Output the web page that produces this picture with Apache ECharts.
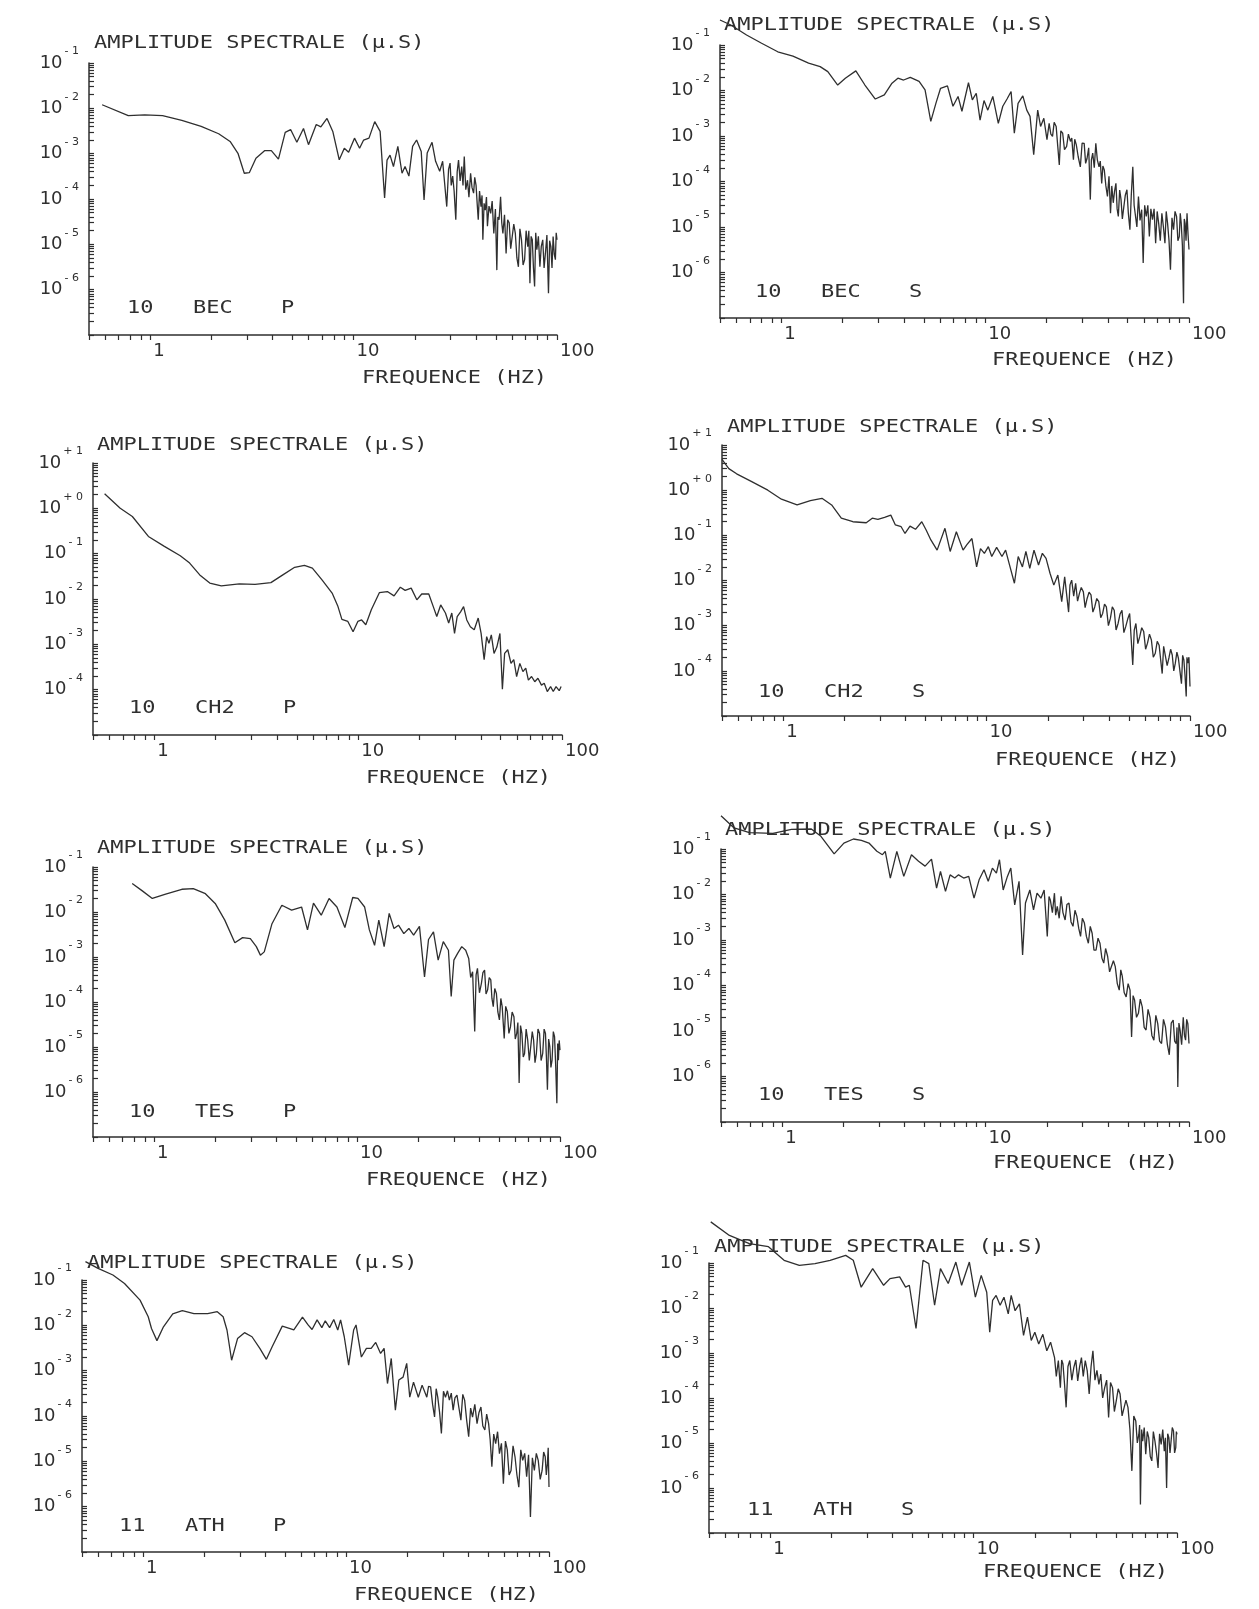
<!DOCTYPE html>
<html>
<head>
<meta charset="utf-8">
<title>Amplitude spectrale</title>
<script src="https://cdn.jsdelivr.net/npm/echarts@6/dist/echarts.min.js"></script>
<style>
html, body { margin: 0; padding: 0; background: #fff; }
#main { width: 1259px; height: 1609px; }
</style>
</head>
<body>
<div id="main"></div>
<script>
// spectres [frequence Hz, amplitude]
var bec10P = [[0.58,1.2e-2],[0.78,6.9e-3],[0.94,7.2e-3],[1.15,6.9e-3],[1.43,5.4e-3],[1.78,4.0e-3],[2.17,2.75e-3],[2.47,1.86e-3],[2.7,1.02e-3],[2.9,3.7e-4],[3.07,3.8e-4],[3.31,7.9e-4],[3.66,1.17e-3],[3.94,1.17e-3],[4.27,7.6e-4],[4.61,2.95e-3],[4.9,3.4e-3],[5.26,1.78e-3],[5.67,3.6e-3],[6.0,1.58e-3],[6.55,4.4e-3],[6.9,3.9e-3],[7.4,6.0e-3],[7.9,3.1e-3],[8.5,7.3e-4],[9.0,1.32e-3],[9.45,1.07e-3],[10.1,2.2e-3],[10.7,1.32e-3],[11.2,2.0e-3],[11.9,2.2e-3],[12.7,5.1e-3],[13.5,3.1e-3],[14.2,1.05e-4],[14.6,7.2e-4],[15.1,9.3e-4],[15.7,5.2e-4],[16.5,1.45e-3],[17.3,3.7e-4],[17.9,5.2e-4],[18.7,3.2e-4],[19.5,1.45e-3],[20.4,2.0e-3],[21.5,1.12e-3],[22.2,9.5e-5],[23.0,1.03e-3],[24.3,1.78e-3],[25.3,6.8e-4],[26.5,4.1e-4],[27.4,6.8e-4],
	[28.7,6.8e-5],[29.3,4.5e-4],[29.8,6.2e-4],[30.2,2.0e-4],[30.7,3.2e-4],[31.2,1.5e-4],[31.8,3.5e-5],[32.3,4.0e-4],[32.8,7.2e-4],[33.4,2.5e-4],[34.0,5.2e-4],[34.5,2.0e-4],[35.0,8.7e-4],[35.6,1.6e-4],[36.3,2.6e-4],[36.9,1.1e-4],[37.6,3.7e-4],[38.2,1.8e-4],[38.9,1.35e-4],[39.4,3.0e-4],[40.0,2.0e-4],[40.5,8.0e-5],[41.0,3.5e-5],[41.6,1.5e-4],[42.3,6.8e-5],[42.8,1.2e-4],[43.2,1.26e-5],[43.8,8.0e-5],[44.4,5.7e-5],[45.0,1.1e-4],[45.5,2.5e-5],[46.3,7.0e-5],[47.2,4.8e-5],[48.0,9.0e-5],[48.9,1.74e-5],[49.8,6.0e-5],[50.6,2.7e-6],[51.2,4.0e-5],[51.9,3.5e-5],[52.8,1.12e-4],[53.5,3.0e-5],[54.2,1.74e-5],[55.2,4.5e-5],[56.2,6.3e-6],[57.2,3.5e-5],[58.2,3.0e-5],[59.2,8.0e-6],[60.3,7.6e-6],[61.3,2.8e-5],[62.4,1.74e-5],[63.5,5.0e-6],[64.6,3.2e-6],[65.7,2.2e-5],[66.9,1.26e-5],[68.1,3.5e-6],[69.3,4.6e-6],[70.5,2.0e-5],[71.8,8.9e-6],[72.7,2.0e-5],[73.6,1.38e-6],[74.6,1.5e-5],[75.6,1.26e-5],[76.6,3.0e-6],[77.6,1.17e-6],[78.6,1.8e-5],[79.6,7.6e-6],[81.0,1.5e-5],[82.4,3.2e-6],[83.7,9.0e-6],[85.1,1.26e-5],[86.4,3.0e-6],[87.7,6.3e-6],[89.2,1.6e-5],[90.8,8.3e-7],[92.0,1.2e-5],[93.3,8.9e-6],[94.5,3.0e-6],[95.7,1.48e-5],[97.0,6.0e-6],[98.2,4.6e-6],[99.1,1.8e-5],[100,1.26e-5]];

var bec10S = [[0.50,0.354],[0.565,0.275],[0.675,0.166],[0.80,0.109],[0.96,7.1e-2],[1.14,5.7e-2],[1.36,4.0e-2],[1.55,3.35e-2],[1.69,2.6e-2],[1.89,1.32e-2],[2.06,1.86e-2],[2.32,2.7e-2],[2.57,1.32e-2],[2.89,6.5e-3],[3.2,8.0e-3],[3.49,1.45e-2],[3.73,1.86e-2],[3.98,1.7e-2],[4.29,1.95e-2],[4.74,1.58e-2],[5.07,1.03e-2],[5.41,2.1e-3],[5.73,5.2e-3],[6.04,1.12e-2],[6.53,1.26e-2],[6.95,4.5e-3],[7.36,7.4e-3],[7.69,3.5e-3],[8.28,1.48e-2],[8.65,6.2e-3],[9.04,8.7e-3],[9.44,2.24e-3],[9.87,6.0e-3],[10.3,3.7e-3],[10.9,7.4e-3],[11.6,1.9e-3],[12.2,4.5e-3],[12.8,6.5e-3],[13.4,9.5e-3],[13.9,1.15e-3],[14.5,5.2e-3],[15.3,7.6e-3],[16.0,3.7e-3],[16.6,2.7e-3],[17.3,3.9e-4],[18.1,3.7e-3],[18.7,1.62e-3],[19.4,2.45e-3],
	[20.1,8.3e-4],[20.6,1.9e-3],[21.0,1.1e-3],[21.4,9.8e-4],[21.8,2.0e-3],[22.3,1.62e-3],[22.7,6.0e-4],[23.1,2.3e-4],[23.5,1.3e-3],[24.0,1.15e-3],[24.5,5.0e-4],[25.1,5.9e-4],[25.6,1.1e-3],[26.2,7.6e-4],[26.6,9.0e-4],[27.1,3.0e-4],[27.5,8.5e-4],[28.0,6.4e-4],[28.6,3.5e-4],[29.3,2.1e-4],[29.9,7.0e-4],[30.6,6.9e-4],[31.1,2.5e-4],[31.6,3.2e-4],[32.2,5.5e-4],[32.8,4.0e-5],[33.2,3.0e-4],[33.7,4.2e-4],[34.3,2.0e-4],[34.9,6.9e-4],[35.5,3.0e-4],[36.2,2.1e-4],[36.7,2.8e-4],[37.3,9.1e-5],[37.8,2.2e-4],[38.4,1.8e-4],[39.1,8.0e-5],[39.8,4.7e-5],[40.5,1.3e-4],[41.2,2.0e-5],[41.8,8.0e-5],[42.5,3.4e-5],[43.1,6.0e-5],[43.8,9.1e-5],[44.4,2.5e-5],[45.0,1.7e-5],[45.7,6.5e-5],[46.4,4.0e-5],[47.1,1.5e-5],[47.9,2.8e-5],[48.7,5.0e-5],[49.6,6.6e-5],[50.4,2.0e-5],[51.3,8.7e-6],[52.1,5.0e-5],[53.0,2.1e-4],[53.8,3.0e-5],[54.6,2.8e-5],[55.5,1.0e-5],[56.5,4.7e-5],[57.5,1.4e-5],[58.6,2.4e-5],[59.6,1.62e-6],[60.6,3.0e-5],[61.7,1.7e-5],[62.8,3.0e-5],[63.9,6.2e-6],[65.0,2.5e-5],[66.2,1.45e-5],[67.4,2.5e-5],[68.6,4.4e-6],[69.8,2.2e-5],[71.0,1.2e-5],[72.3,5.0e-6],[73.6,2.0e-5],[74.9,1.0e-5],[76.2,4.4e-6],[77.3,2.2e-5],[78.5,1.2e-5],[79.8,5.0e-6],[81.1,1.15e-6],[82.5,1.6e-5],[84.0,8.7e-6],[85.4,2.2e-5],[86.9,1.7e-5],[88.2,5.0e-6],[89.6,6.2e-6],[90.6,2.0e-5],[91.6,1.2e-5],[92.8,4.0e-6],[94.0,2.1e-7],[94.8,1.5e-5],[95.7,1.2e-5],[96.7,5.0e-6],[97.8,2.0e-5],[98.9,7.0e-6],[100,3.2e-6]];

var ch210P = [[0.57,2.1],[0.68,1.0],[0.78,0.66],[0.935,0.24],[1.12,0.145],[1.34,9.0e-2],[1.49,6.2e-2],[1.67,3.4e-2],[1.87,2.24e-2],[2.13,1.95e-2],[2.61,2.15e-2],[3.12,2.1e-2],[3.73,2.3e-2],[4.27,3.4e-2],[4.88,5.0e-2],[5.45,5.5e-2],[5.96,4.8e-2],[6.66,2.6e-2],[7.45,1.35e-2],[7.96,6.8e-3],[8.32,3.55e-3],[8.9,3.2e-3],[9.44,1.9e-3],[9.96,3.2e-3],[10.4,3.45e-3],[10.9,2.7e-3],[11.6,5.8e-3],[12.7,1.38e-2],[13.9,1.46e-2],[15.0,1.17e-2],[16.1,1.82e-2],[17.0,1.55e-2],[18.2,1.74e-2],[19.4,9.6e-3],[20.5,1.29e-2],[22.2,1.29e-2],[23.5,6.3e-3],[24.3,4.1e-3],[25.4,7.4e-3],[26.8,4.9e-3],[27.8,2.95e-3],[28.8,4.9e-3],[29.7,1.74e-3],[30.6,4.1e-3],[31.8,5.2e-3],[32.9,6.8e-3],[34.1,3.45e-3],[35.5,2.45e-3],[37.1,2.1e-3],[38.8,3.8e-3],[40.1,1.74e-3],[41.5,4.6e-4],[42.7,1.48e-3],[43.8,1.05e-3],[45.0,1.62e-3],[46.4,6.3e-4],[47.9,8.7e-4],[49.6,1.74e-3],[51.0,1.02e-4],[52.3,6.3e-4],[54.2,7.6e-4],[56.2,3.8e-4],[58.0,4.6e-4],[59.9,1.95e-4],[62.1,3.8e-4],[64.3,2.5e-4],[66.4,3.0e-4],[68.4,1.62e-4],[70.9,1.95e-4],[73.5,1.5e-4],[76.2,1.78e-4],[79.3,1.26e-4],[81.8,1.38e-4],[84.7,9.1e-5],[87.9,1.17e-4],[90.6,9.1e-5],[93.5,1.17e-4],[96.9,9.5e-5],[99,1.17e-4]];

var ch210S = [[0.50,4.8],[0.54,3.0],[0.59,2.3],[0.70,1.54],[0.84,1.0],[0.98,0.63],[1.17,0.47],[1.36,0.59],[1.55,0.66],[1.73,0.47],[1.93,0.24],[2.2,0.20],[2.56,0.19],[2.74,0.24],[2.92,0.226],[3.15,0.25],[3.38,0.28],[3.56,0.17],[3.8,0.155],[3.97,0.11],[4.2,0.16],[4.47,0.136],[4.8,0.20],[5.05,0.13],[5.32,7.9e-2],[5.71,4.7e-2],[6.24,0.143],[6.62,4.4e-2],[7.1,0.12],[7.66,4.7e-2],[8.0,6.2e-2],[8.47,8.5e-2],[8.93,2.0e-2],[9.33,5.1e-2],[9.75,4.0e-2],[10.2,5.6e-2],[10.6,3.4e-2],[11.2,5.4e-2],[11.9,3.4e-2],[12.4,4.7e-2],[12.9,2.4e-2],[13.7,8.7e-3],[14.3,3.4e-2],[15.0,2.0e-2],[15.6,4.4e-2],[16.3,1.86e-2],[17.1,4.7e-2],[18.0,2.2e-2],[18.8,4.0e-2],[19.6,3.1e-2],[20.5,1.45e-2],[21.4,7.9e-3],[22.4,1.32e-2],[23.4,3.4e-3],[24.2,1.2e-2],
	[25.3,2.0e-3],[25.7,8.0e-3],[26.2,1.02e-2],[26.8,4.5e-3],[27.4,8.7e-3],[28.0,3.5e-3],[28.6,5.2e-3],[29.2,7.0e-3],[29.9,5.6e-3],[30.5,2.5e-3],[31.2,4.0e-3],[31.9,5.5e-3],[32.6,4.8e-3],[33.3,2.0e-3],[34.0,2.6e-3],[34.8,4.0e-3],[35.6,3.4e-3],[36.4,1.5e-3],[37.2,1.86e-3],[38.0,3.0e-3],[38.8,2.6e-3],[39.7,1.0e-3],[40.6,1.45e-3],[41.5,2.6e-3],[42.4,2.2e-3],[43.3,8.0e-4],[44.3,1.12e-3],[45.3,1.8e-3],[46.3,2.2e-3],[47.3,7.0e-4],[48.3,9.5e-4],[49.4,1.4e-3],[50.5,1.86e-3],[51.4,5.0e-4],[52.3,1.35e-4],[53.2,8.0e-4],[54.2,1.12e-3],[55.4,4.0e-4],[56.6,5.7e-4],[57.9,9.0e-4],[59.2,7.4e-4],[60.5,3.0e-4],[61.8,4.1e-4],[63.2,6.5e-4],[64.6,4.8e-4],[66.0,2.0e-4],[67.5,2.45e-4],[69.0,4.5e-4],[70.5,3.7e-4],[71.7,1.8e-4],[73.0,8.7e-5],[74.2,3.5e-4],[75.5,3.2e-4],[77.2,1.3e-4],[78.9,2.0e-4],[80.3,3.0e-4],[81.8,2.24e-4],[83.2,1.0e-4],[84.7,1.48e-4],[86.2,2.6e-4],[87.7,1.9e-4],[89.2,1.0e-4],[90.8,5.2e-5],[92.0,2.2e-4],[93.3,1.74e-4],[94.5,8.0e-5],[95.8,2.7e-5],[96.6,2.0e-4],[97.5,1.48e-4],[98.8,2.0e-4],[100,4.5e-5]];

var tes10P = [[0.78,4.3e-2],[0.875,2.95e-2],[0.98,2.0e-2],[1.14,2.5e-2],[1.37,3.2e-2],[1.56,3.3e-2],[1.79,2.55e-2],[2.0,1.55e-2],[2.23,6.6e-3],[2.5,2.07e-3],[2.73,2.7e-3],[2.98,2.55e-3],[3.19,1.7e-3],[3.34,1.1e-3],[3.49,1.3e-3],[3.81,5.5e-3],[4.26,1.41e-2],[4.76,1.1e-2],[5.33,1.29e-2],[5.7,4.0e-3],[6.1,1.58e-2],[6.66,8.5e-3],[7.28,2.0e-2],[7.96,1.29e-2],[8.71,4.5e-3],[9.52,2.1e-2],[10.1,2.0e-2],[10.9,1.29e-2],[11.5,4.0e-3],[12.2,1.82e-3],[12.8,6.6e-3],[13.6,1.7e-3],[14.4,9.3e-3],[15.2,4.3e-3],[16.0,5.1e-3],[17.0,3.3e-3],[18.0,4.3e-3],[19.0,3.05e-3],[20.3,4.8e-3],[21.5,3.6e-4],[22.5,2.45e-3],[23.8,3.6e-3],[25.1,8.5e-4],[26.6,2.2e-3],[28.2,1.41e-3],[29.1,1.32e-4],[30.0,8.5e-4],[31.3,1.2e-3],[32.8,1.7e-3],[34.3,1.41e-3],
	[35.5,9.3e-4],[36.3,3.5e-4],[37.1,4.7e-4],[38.0,2.2e-5],[38.6,4.0e-4],[39.2,5.6e-4],[40.1,1.6e-4],[41.0,2.6e-4],[41.7,4.5e-4],[42.5,5.1e-4],[43.2,1.5e-4],[44.0,1.86e-4],[44.8,3.5e-4],[45.6,3.1e-4],[46.2,1.2e-4],[46.9,7.9e-5],[47.7,2.0e-4],[48.6,1.55e-4],[49.4,6.0e-5],[50.3,4.0e-5],[51.1,1.2e-4],[51.9,7.9e-5],[52.5,3.5e-5],[53.1,1.55e-5],[54.0,8.0e-5],[55.0,6.1e-5],[56.0,2.0e-5],[57.0,2.8e-5],[58.1,6.0e-5],[59.3,4.7e-5],[60.2,1.5e-5],[61.2,2.0e-5],[62.0,3.5e-5],[62.9,1.58e-6],[63.9,3.0e-5],[64.9,2.0e-5],[65.9,6.0e-6],[66.9,7.2e-6],[68.1,2.5e-5],[69.3,1.45e-5],[70.6,5.0e-6],[71.9,5.1e-6],[73.0,2.2e-5],[74.1,1.45e-5],[75.3,4.5e-6],[76.5,7.2e-6],[77.9,2.5e-5],[79.3,2.0e-5],[80.7,5.0e-6],[82.2,7.2e-6],[83.5,2.5e-5],[84.8,2.0e-5],[85.7,6.0e-6],[86.7,1.12e-6],[87.9,1.5e-5],[89.1,1.02e-5],[90.2,3.5e-6],[91.4,5.1e-6],[92.7,2.2e-5],[94.0,1.7e-5],[95.2,4.0e-6],[96.5,5.6e-7],[97.4,1.2e-5],[98.2,5.1e-6],[99.1,1.4e-5],[100,8.5e-6]];

var tes10S = [[0.50,0.54],[0.58,0.29],[0.69,0.23],[0.90,0.22],[1.11,0.27],[1.39,0.275],[1.55,0.19],[1.80,7.8e-2],[2.01,0.135],[2.24,0.166],[2.45,0.155],[2.67,0.135],[2.92,8.9e-2],[3.11,7.5e-2],[3.21,8.9e-2],[3.40,2.3e-2],[3.66,8.9e-2],[3.96,2.5e-2],[4.32,7.5e-2],[4.68,5.4e-2],[5.04,4.2e-2],[5.42,6.0e-2],[5.74,1.38e-2],[6.0,3.2e-2],[6.35,1.17e-2],[6.69,2.7e-2],[7.05,2.3e-2],[7.36,2.7e-2],[7.8,2.3e-2],[8.26,2.5e-2],[8.77,8.3e-3],[9.29,2.1e-2],[9.82,3.5e-2],[10.3,1.95e-2],[10.8,3.8e-2],[11.3,2.95e-2],[11.7,5.8e-2],[12.2,1.26e-2],[12.8,2.5e-2],[13.3,3.8e-2],[13.9,5.9e-3],[14.6,1.95e-2],[15.2,4.7e-4],[15.7,6.5e-3],[16.5,1.26e-2],[17.2,4.6e-3],[17.9,1.07e-2],[18.7,8.3e-3],[19.4,1.26e-2],
	[20.1,1.2e-3],[20.5,9.0e-3],[20.8,7.6e-3],[21.3,4.0e-3],[21.8,1.07e-2],[22.1,3.5e-3],[22.5,5.5e-3],[23.0,3.0e-3],[23.5,9.1e-3],[24.0,4.0e-3],[24.6,2.75e-3],[25.1,6.0e-3],[25.7,6.5e-3],[26.3,2.5e-3],[26.9,2.0e-3],[27.5,4.5e-3],[28.1,3.3e-3],[28.7,1.8e-3],[29.3,1.2e-3],[29.9,3.0e-3],[30.6,2.35e-3],[31.3,1.2e-3],[32.0,8.5e-4],[32.7,2.0e-3],[33.4,1.41e-3],[34.1,6.0e-4],[34.9,6.0e-4],[35.7,1.1e-3],[36.5,8.5e-4],[37.3,4.0e-4],[38.1,3.1e-4],[38.9,6.5e-4],[39.8,4.4e-4],[40.7,2.0e-4],[41.6,1.86e-4],[42.5,3.5e-4],[43.4,2.6e-4],[44.4,1.1e-4],[45.4,7.9e-5],[46.2,2.2e-4],[47.0,1.58e-4],[48.0,7.0e-5],[49.1,5.6e-5],[50.2,1.1e-4],[51.3,7.9e-5],[52.2,7.4e-6],[53.1,6.0e-5],[54.0,4.8e-5],[55.2,2.0e-5],[56.4,2.45e-5],[57.6,5.0e-5],[58.9,3.4e-5],[60.2,1.2e-5],[61.5,1.05e-5],[62.9,3.0e-5],[64.3,2.0e-5],[65.7,8.0e-6],[67.2,6.3e-6],[68.7,2.2e-5],[70.2,1.45e-5],[71.7,6.0e-6],[73.3,5.3e-6],[74.9,1.8e-5],[76.6,1.23e-5],[78.3,5.0e-6],[80.0,3.0e-6],[81.8,1.5e-5],[83.6,1.74e-5],[85.0,6.0e-6],[86.5,5.3e-6],[87.3,1.2e-5],[88.1,5.9e-7],[89.2,1.5e-5],[90.4,1.05e-5],[92.0,5.0e-6],[93.7,2.0e-5],[95.0,8.0e-6],[96.2,6.3e-6],[97.4,1.8e-5],[98.7,1.45e-5],[100,5.3e-6]];

var ath11P = [[0.52,0.254],[0.60,0.18],[0.71,0.129],[0.81,8.4e-2],[0.966,3.6e-2],[1.06,1.55e-2],[1.10,8.5e-3],[1.17,4.6e-3],[1.26,9.3e-3],[1.40,1.78e-2],[1.56,2.1e-2],[1.78,1.82e-2],[2.08,1.82e-2],[2.32,2.0e-2],[2.48,1.55e-2],[2.59,7.9e-3],[2.73,1.7e-3],[2.92,5.1e-3],[3.16,6.9e-3],[3.44,5.6e-3],[3.76,3.1e-3],[4.05,1.78e-3],[4.33,3.4e-3],[4.85,9.6e-3],[5.30,8.5e-3],[5.53,7.9e-3],[6.1,1.51e-2],[6.5,1.02e-2],[6.8,8.1e-3],[7.2,1.32e-2],[7.6,8.9e-3],[7.9,1.26e-2],[8.3,8.9e-3],[8.7,1.35e-2],[9.1,7.9e-3],[9.4,1.32e-2],[9.8,5.6e-3],[10.3,1.32e-3],[10.9,7.9e-3],[11.2,1.02e-2],[11.9,2.0e-3],[12.6,3.1e-3],[13.3,3.1e-3],[14.0,4.2e-3],[14.8,2.4e-3],[15.4,3.1e-3],[16.0,5.2e-4],[16.7,1.86e-3],[17.5,1.35e-4],[18.2,6.2e-4],[19.1,7.2e-4],[19.9,1.45e-3],[20.6,2.6e-4],[21.5,5.6e-4],[22.7,2.6e-4],[23.7,4.8e-4],
	[25.0,2.6e-4],[25.5,4.5e-4],[26.1,4.4e-4],[26.7,1.8e-4],[27.3,9.5e-5],[27.8,4.0e-4],[28.3,2.6e-4],[28.9,1.2e-4],[29.5,4.1e-5],[30.2,3.5e-4],[30.9,2.6e-4],[31.6,3.6e-4],[32.3,2.24e-4],[33.0,3.2e-4],[33.7,1.35e-4],[34.4,2.5e-4],[35.2,2.9e-4],[36.0,1.5e-4],[36.8,8.1e-5],[37.6,3.0e-4],[38.4,2.24e-4],[39.3,8.0e-5],[40.2,3.5e-5],[41.1,1.5e-4],[42.0,9.5e-5],[43.1,1.8e-4],[44.2,6.8e-5],[45.2,1.2e-4],[46.2,1.58e-4],[47.2,6.0e-5],[48.3,4.9e-5],[49.3,1.1e-4],[50.4,6.8e-5],[51.3,3.0e-5],[52.3,7.6e-6],[53.4,4.0e-5],[54.6,2.45e-5],[55.8,4.5e-5],[57.0,1.48e-5],[58.3,2.5e-5],[59.6,3.2e-6],[61.0,2.8e-5],[62.3,1.78e-5],[63.6,5.0e-6],[65.0,6.3e-6],[66.5,2.2e-5],[68.0,1.26e-5],[69.5,5.0e-6],[71.0,2.7e-6],[72.6,1.8e-5],[74.2,1.05e-5],[75.9,1.5e-5],[77.6,4.6e-6],[79.3,1.4e-5],[81.0,5.9e-7],[82.8,1.2e-5],[84.7,6.3e-6],[86.6,1.5e-5],[88.5,1.05e-5],[90.5,4.0e-6],[92.5,6.3e-6],[94.1,1.6e-5],[95.8,1.26e-5],[97.0,5.0e-6],[98.2,8.9e-6],[99.1,2.0e-5],[100,2.7e-6]];

var ath11S = [[0.51,0.82],[0.63,0.41],[0.79,0.27],[0.98,0.23],[1.17,0.115],[1.39,8.9e-2],[1.66,9.7e-2],[1.97,0.115],[2.35,0.148],[2.56,0.115],[2.80,2.9e-2],[3.19,7.5e-2],[3.61,3.2e-2],[3.88,4.5e-2],[4.33,4.9e-2],[4.63,2.9e-2],[4.83,3.2e-2],[5.21,3.5e-3],[5.64,0.115],[6.02,9.7e-2],[6.43,1.15e-2],[6.87,7.5e-2],[7.5,3.5e-2],[8.18,0.105],[8.73,3.2e-2],[9.53,0.105],[10.2,1.74e-2],[10.9,5.3e-2],[11.6,2.24e-2],[12.0,2.9e-3],[12.4,1.48e-2],[12.9,1.9e-2],[13.5,1.15e-2],[14.1,1.74e-2],[14.8,7.4e-3],[15.3,1.9e-2],[16.0,8.7e-3],[16.8,1.23e-2],[17.6,2.45e-3],[18.4,6.3e-3],[19.2,1.9e-3],[20.0,2.9e-3],[20.9,1.58e-3],[21.9,2.6e-3],[22.9,1.12e-3],[23.9,1.74e-3],
	[25.0,7.9e-4],[25.5,3.0e-4],[26.1,6.8e-4],[26.7,1.7e-4],[27.1,7.0e-4],[27.5,5.7e-4],[28.0,2.0e-4],[28.5,6.2e-5],[29.1,5.0e-4],[29.7,6.8e-4],[30.4,2.5e-4],[31.1,4.8e-4],[31.8,7.0e-4],[32.5,2.4e-4],[33.2,5.0e-4],[33.9,7.9e-4],[34.6,3.0e-4],[35.4,6.8e-4],[36.2,4.0e-4],[37.0,1.23e-4],[37.8,5.0e-4],[38.6,1.12e-3],[39.5,2.5e-4],[40.4,4.1e-4],[41.3,2.0e-4],[42.2,3.4e-4],[43.1,1.0e-4],[44.1,1.7e-4],[45.1,2.5e-4],[46.1,3.7e-5],[47.1,2.2e-4],[48.2,1.7e-4],[49.2,5.0e-5],[50.3,8.7e-5],[51.4,1.6e-4],[52.5,1.23e-4],[53.7,4.0e-5],[54.9,4.4e-5],[56.1,9.0e-5],[57.4,6.2e-5],[58.7,2.0e-5],[60.0,2.4e-6],[61.3,4.0e-5],[62.7,3.1e-5],[63.8,1.0e-5],[64.9,1.55e-5],[65.5,2.5e-5],[66.1,4.3e-7],[67.0,2.0e-5],[67.8,1.1e-5],[69.0,2.2e-5],[70.2,5.6e-6],[71.4,1.8e-5],[72.6,1.32e-5],[73.9,5.0e-6],[75.2,4.0e-6],[76.5,1.8e-5],[77.9,1.1e-5],[79.3,6.0e-6],[80.7,2.8e-6],[82.1,1.6e-5],[83.6,9.3e-6],[85.1,2.0e-5],[86.6,6.6e-6],[87.7,1.3e-5],[88.9,1.0e-6],[90.0,1.6e-5],[91.2,1.32e-5],[92.4,6.0e-6],[93.6,5.6e-6],[94.8,2.2e-5],[96.1,1.86e-5],[97.3,6.0e-6],[98.6,7.9e-6],[99.3,1.8e-5],[100,1.55e-5]];

// graduations
var xTickValues = [0.5,0.6,0.7,0.8,0.9,1,2,3,4,5,6,7,8,9,10,20,30,40,50,60,70,80,90,100];
var xLabelValues = [1, 10, 100];
var mantissas = [1,2,3,4,5,6,7,8,9];

var spectra = [bec10P, bec10S, ch210P, ch210S, tes10P, tes10S, ath11P, ath11S];
var panelTags = [['10','BEC','P'],['10','BEC','S'],['10','CH2','P'],['10','CH2','S'],['10','TES','P'],['10','TES','S'],['11','ATH','P'],['11','ATH','S']];
var yDecades = [[-7,-1],[-7,-1],[-5,1],[-5,1],[-7,-1],[-7,-1],[-7,-1],[-7,-1]];

// mise en page (px)
var gridBoxes = [[89,63,468,272],[720,45,469,273],[93,463,469,272],[722,445,468,271],[93,867,467,270],[721,849,468,273],[82,1280,467,272],[709,1263,468,270]];
var titlePos = [[94,43],[724,25],[97,445],[727,427],[97,848],[725,830],[87,1263],[714,1247]];
var freqPos = [[362,378],[992,360],[366,778],[995,760],[366,1180],[993,1163],[354,1595],[983,1572]];
var tagPos = [[127,308],[755,292],[129,708],[758,692],[129,1112],[758,1095],[119,1526],[747,1510]];

var FONT = 'DejaVu Sans Mono';
var INK = '#2f2f2f';

var myChart = echarts.init(document.getElementById('main'));

function txt(str, x, y) {
	return {
		type: 'text', x: x, y: y, scaleX: 1.22, silent: true,
		style: { text: str, fontFamily: FONT, fontSize: 18, fill: INK,
			align: 'left', verticalAlign: 'middle', textAlign: 'left', textVerticalAlign: 'middle' }
	};
}

var grids = [], xAxes = [], yAxes = [], series = [], graphics = [];

for (var i = 0; i < spectra.length; i++) {
	var g = gridBoxes[i];
	grids.push({ left: g[0], top: g[1], width: g[2], height: g[3] });

	var lo = yDecades[i][0], hi = yDecades[i][1];
	var yTicks = [], yLabels = [];
	for (var k = lo; k < hi; k++) {
		for (var m = 0; m < mantissas.length; m++) yTicks.push(k + Math.log10(mantissas[m]));
		if (k > lo) yLabels.push(k);
	}
	yTicks.push(hi);
	yLabels.push(hi);

	// axes log pour les courbes
	var xi = xAxes.length, yi = yAxes.length;
	xAxes.push({ type: 'log', logBase: 10, gridIndex: i, min: 0.5, max: 100, show: false, position: 'bottom' });
	yAxes.push({ type: 'log', logBase: 10, gridIndex: i, min: Math.pow(10, lo), max: Math.pow(10, hi), show: false, position: 'left' });

	// axes gradués (exposants)
	xAxes.push({
		type: 'value', gridIndex: i, position: 'bottom',
		min: Math.log10(0.5), max: 2,
		axisLine: { show: true, onZero: false, lineStyle: { color: INK, width: 1.5 } },
		axisTick: { show: true, inside: false, length: 5, lineStyle: { color: INK, width: 1.2 },
			customValues: xTickValues.map(function (v) { return Math.log10(v); }) },
		axisLabel: { show: true, customValues: xLabelValues.map(function (v) { return Math.log10(v); }),
			formatter: function (v) { return String(Math.round(Math.pow(10, v))); },
			align: 'left', verticalAlign: 'top', margin: 7, padding: [0, 0, 0, 3],
			fontFamily: 'DejaVu Sans', fontSize: 18, color: INK },
		splitLine: { show: false }
	});
	yAxes.push({
		type: 'value', gridIndex: i, position: 'left',
		min: lo, max: hi,
		axisLine: { show: true, onZero: false, lineStyle: { color: INK, width: 1.5 } },
		axisTick: { show: true, inside: true, length: 5, lineStyle: { color: INK, width: 1.2 }, customValues: yTicks },
		axisLabel: { show: true, customValues: yLabels, margin: 10,
			formatter: function (v) {
				var e = Math.round(v);
				return '{b|10}{s|' + (e < 0 ? '-' : '+') + ' ' + Math.abs(e) + '}';
			},
			rich: {
				b: { fontFamily: 'DejaVu Sans', fontSize: 18, lineHeight: 34, color: INK },
				s: { fontFamily: 'DejaVu Sans', fontSize: 11, lineHeight: 12, verticalAlign: 'top', padding: [0, 0, 0, 2], color: INK }
			}
		},
		splitLine: { show: false }
	});

	series.push({
		type: 'line', xAxisIndex: xi, yAxisIndex: yi, data: spectra[i],
		symbol: 'none', clip: false, animation: false,
		lineStyle: { color: INK, width: 1.3 }
	});

	graphics.push(txt('AMPLITUDE SPECTRALE (\u03bc.S)', titlePos[i][0], titlePos[i][1]));
	graphics.push(txt('FREQUENCE (HZ)', freqPos[i][0], freqPos[i][1]));
	graphics.push(txt(panelTags[i][0], tagPos[i][0], tagPos[i][1]));
	graphics.push(txt(panelTags[i][1], tagPos[i][0] + 66, tagPos[i][1]));
	graphics.push(txt(panelTags[i][2], tagPos[i][0] + 154, tagPos[i][1]));
}

var option = {
	backgroundColor: '#ffffff',
	animation: false,
	grid: grids,
	xAxis: xAxes,
	yAxis: yAxes,
	series: series,
	graphic: graphics
};

myChart.setOption(option);
</script>
</body>
</html>
